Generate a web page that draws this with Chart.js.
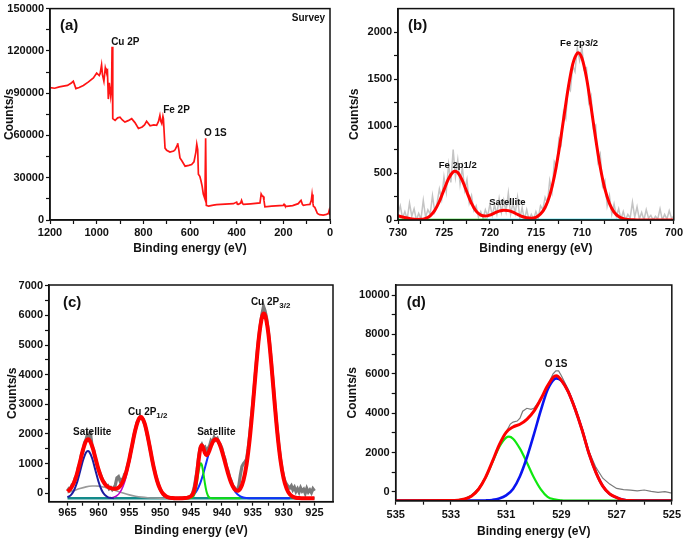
<!DOCTYPE html>
<html>
<head>
<meta charset="utf-8">
<script src="https://cdn.jsdelivr.net/npm/chart.js@4"></script>
<style>
  body { margin: 0; background: #fff; width: 685px; height: 539px; position: relative; overflow: hidden; }
  canvas { position: absolute; }
</style>
</head>
<body>
<canvas id="panelA" width="340" height="262" style="left:0;top:0"></canvas>
<canvas id="panelB" width="345" height="262" style="left:340px;top:0"></canvas>
<canvas id="panelC" width="340" height="277" style="left:0;top:262px"></canvas>
<canvas id="panelD" width="345" height="277" style="left:340px;top:262px"></canvas>
<script>
// ---- (a) survey spectrum ----
const surveyEnergy = [1200,1180,1160,1143,1125,1107,1100,1089,1075,1057,1035,1014,1000,989,985,979,975,969,963,960,954,950,946,940,936,934,931,921,910,900,890,879,865,850,836,821,805,795,786,771,755,743,735,729,725,721,716,714,707,700,686,670,664,655,653,648,643,635,621,605,593,583,575,571,567,564,558,553,548,543,536,533,530,520,500,486,450,414,400,397,393,383,379,374,371,340,300,295,290,286,283,279,250,200,197,193,186,160,136,129,124,118,114,100,86,80,77,73,71,65,60,54,45,29,15,7,4,3,1,0];
const surveyCounts = [93900,93500,94500,95000,95500,97400,98500,93200,94000,95500,98000,100800,104300,102500,104000,110100,103000,98500,108000,106000,106600,85800,97400,88100,95000,122900,71900,70700,72500,73000,71000,69500,70500,71900,69100,64900,66000,67500,70000,66800,67500,67200,70000,74200,70000,68400,73500,71900,51000,49500,48200,49000,49800,53000,54500,50000,44000,42000,38200,38800,39400,41300,48000,53800,50000,32500,31000,27800,24000,18500,15000,58000,10400,9800,10500,10900,11200,11600,12700,11200,11100,12000,13900,11500,11100,11500,12100,18500,17000,16700,14000,9300,9800,10400,11100,10000,9700,10200,11600,13000,13900,11000,10400,10800,11100,14000,18100,12000,9700,9000,7000,4600,3800,3500,4000,4600,6500,7400,4000,3500];
const aXTicks = [1200,1100,1000,900,800,700,600,500,400,300,200,100,0];
const aXMajor = [1200,1000,800,600,400,200,0];
const aYTicks = [0,15000,30000,45000,60000,75000,90000,105000,120000,135000,150000];
const aYMajor = [0,30000,60000,90000,120000,150000];

// ---- (b) Fe 2p ----
const feRawEnergy = [730,729.75,729.5,729.25,729,728.75,728.5,728.25,728,727.75,727.5,727.25,727,726.75,726.5,726.25,726,725.75,725.5,725.25,725,724.75,724.5,724.25,724,723.75,723.5,723.25,723,722.75,722.5,722.25,722,721.75,721.5,721.25,721,720.75,720.5,720.25,720,719.75,719.5,719.25,719,718.75,718.5,718.25,718,717.75,717.5,717.25,717,716.75,716.5,716.25,716,715.75,715.5,715.25,715,714.75,714.5,714.25,714,713.75,713.5,713.25,713,712.75,712.5,712.25,712,711.75,711.5,711.25,711,710.75,710.5,710.25,710,709.75,709.5,709.25,709,708.75,708.5,708.25,708,707.75,707.5,707.25,707,706.75,706.5,706.25,706,705.75,705.5,705.25,705,704.75,704.5,704.25,704,703.75,703.5,703.25,703,702.75,702.5,702.25,702,701.75,701.5,701.25,701,700.75,700.5,700.25,700];
const feRawCounts = [60,150,20,90,10,180,40,120,0,70,10,210,30,110,60,260,90,180,330,220,460,300,590,400,750,460,640,380,560,320,430,180,260,100,150,30,90,20,110,40,170,50,160,60,230,80,210,90,290,60,180,70,240,20,130,0,110,0,60,10,90,20,150,110,240,180,420,300,620,560,860,800,1150,1080,1420,1380,1640,1580,1830,1700,1840,1600,1620,1250,1320,980,1010,620,700,360,420,150,260,60,170,40,120,10,90,0,60,20,190,30,140,10,80,0,110,20,50,0,40,10,120,0,60,10,100,20,40];
const feFitEnergy = [730,729.5,729,728.5,728,727.5,727,726.5,726,725.5,725,724.5,724,723.8,723.5,723,722.5,722,721.5,721,720.5,720,719.5,719,718.5,718,717.5,717,716.5,716,715.5,715,714.5,714,713.5,713,712.5,712,711.5,711,710.5,710.4,710,709.5,709,708.5,708,707.5,707,706.5,706,705.5,705,704.5,704,703,702,701,700];
const feFitCounts = [45,32,21,11,6,7,18,45,103,197,321,441,513,520,505,419,296,177,94,52,42,53,74,94,105,100,83,59,37,23,19,29,63,133,260,461,737,1067,1397,1656,1776,1780,1724,1514,1203,865,562,331,176,85,37,15,5,2,0,0,0,0,0];
const feBaseGreenEnergy = [730,720.3];
const feBaseCyanEnergy = [720.8,705.5];
const feBaseCounts = [0,0];
const bXTicks = [730,727.5,725,722.5,720,717.5,715,712.5,710,707.5,705,702.5,700];
const bXMajor = [730,725,720,715,710,705,700];
const bYTicks = [0,250,500,750,1000,1250,1500,1750,2000];
const bYMajor = [0,500,1000,1500,2000];

// ---- (c) Cu 2p ----
const cuRawEnergy = [965,964.75,964.5,964.25,964,963.75,963.5,963.25,963,962.75,962.5,962.25,962,961.75,961.5,961.25,961,960.75,960.5,960.25,960,959.75,959.5,959.25,959,958.75,958.5,958.25,958,957.75,957.5,957.25,957,956.75,956.5,956.25,956,955.75,955.5,955.25,955,954.75,954.5,954.25,954,953.75,953.5,953.25,953,952.75,952.5,952.25,952,951.75,951.5,951.25,951,950.75,950.5,950.25,950,949.75,949.5,949.25,949,948.75,948.5,948.25,948,947.75,947.5,947.25,947,946.75,946.5,946.25,946,945.75,945.5,945.25,945,944.75,944.5,944.25,944,943.75,943.5,943.25,943,942.75,942.5,942.25,942,941.75,941.5,941.25,941,940.75,940.5,940.25,940,939.75,939.5,939.25,939,938.75,938.5,938.25,938,937.75,937.5,937.25,937,936.75,936.5,936.25,936,935.75,935.5,935.25,935,934.75,934.5,934.25,934,933.75,933.5,933.25,933,932.75,932.5,932.25,932,931.75,931.5,931.25,931,930.75,930.5,930.25,930,929.75,929.5,929.25,929,928.75,928.5,928.25,928,927.75,927.5,927.25,927,926.75,926.5,926.25,926,925.75,925.5,925.25,925];
const cuRawCounts = [90,160,140,290,330,520,600,880,1010,1300,1420,1700,1820,1990,1850,1960,1560,1450,1160,1000,800,680,540,420,360,240,260,150,190,120,180,280,520,560,420,470,480,640,720,950,1120,1420,1640,1950,2150,2380,2470,2580,2540,2500,2330,2140,1890,1650,1370,1080,850,630,440,270,150,40,-40,-90,-120,-140,-160,-165,-170,-180,-175,-172,-170,-166,-165,-162,-160,-150,-140,-120,-90,0,180,480,800,1250,1550,1640,1520,1560,1420,1500,1600,1780,1720,1880,1800,1850,1700,1640,1520,1300,1150,900,760,540,420,260,200,90,120,260,620,900,1000,1060,1150,1500,1950,2500,3000,3600,4200,4800,5300,5700,6050,6300,6150,5900,5500,5000,4450,3850,3200,2600,2050,1550,1150,800,560,380,300,220,180,250,120,200,60,150,40,180,70,130,0,160,40,110,20,150,80];
const cuFitEnergy = [965,964.5,964,963.5,963,962.5,962,961.7,961.5,961,960.5,960,959.5,959,958.5,958,957.5,957,956.5,956,955.5,955,954.5,954,953.5,953.1,953,952.5,952,951.5,951,950.5,950,949.5,949,948.5,948,947.5,947,946.5,946,945.5,945,944.75,944.5,944.25,944,943.75,943.5,943.25,943,942.75,942.5,942.25,942,941.5,941,940.5,940,939.5,939,938.5,938,937.5,937,936.5,936,935.5,935,934.5,934,933.5,933.2,933,932.5,932,931.5,931,930.5,930,929.5,929,928.5,928,927.5,927,926.5,925];
const cuFitCounts = [53,154,335,633,1037,1462,1759,1821,1805,1584,1205,815,514,326,220,171,149,163,239,411,711,1143,1657,2148,2486,2570,2561,2347,1904,1360,839,424,144,-21,-107,-147,-162,-168,-169,-167,-161,-146,-102,-45,74,308,686,1139,1499,1621,1521,1360,1284,1331,1454,1716,1820,1715,1431,1051,668,355,153,81,161,439,974,1808,2914,4150,5257,5946,6067,6013,5437,4391,3158,2008,1108,504,148,-35,-119,-152,-164,-168,-170,-170];
const cuSatAEnergy = [965,964.5,964,963.5,963,962.5,962,961.7,961.5,961,960.5,960,959.5,959,958.5,958,957.5];
const cuSatACounts = [-136,-70,76,338,708,1103,1375,1425,1403,1171,789,405,118,-49,-127,-157,-167];
const cuBroadEnergy = [965,964,963,962,961,960.5,960,959,958,957,956,955,954,953,952,951,950,949];
const cuBroadCounts = [19,89,159,214,243,246,240,205,146,75,5,-54,-100,-131,-150,-160,-166,-168];
const cuHalfEnergy = [958,957.5,957,956.5,956,955.5,955,954.5,954,953.5,953.1,953,952.5,952,951.5,951,950.5,950,949.5,949,948.5,948];
const cuHalfCounts = [-158,-136,-82,30,236,567,1027,1566,2078,2433,2528,2522,2318,1884,1346,829,418,140,-24,-109,-147,-162];
const cuSatGreenEnergy = [946,945.5,945,944.75,944.5,944.25,944,943.75,943.5,943.4,943.25,943,942.75,942.5,942.25,942,941.75,941.5,941,937];
const cuSatGreenCounts = [-170,-170,-163,-139,-65,108,405,754,988,1011,959,687,337,64,-86,-147,-165,-169,-170,-170];
const cuSatBlueEnergy = [946,945.5,945,944.5,944,943.5,943,942.5,942,941.5,941,940.5,940,939.5,939,938.5,938,937.5,937,936.5,936,935.5,935,929];
const cuSatBlueCounts = [-161,-146,-109,-31,111,341,664,1050,1431,1715,1820,1715,1431,1050,664,341,111,-31,-109,-146,-161,-167,-170,-170];
const cuBaseEnergy = [965,925];
const cuBaseCounts = [-170,-170];
const cXTicks = [965,962.5,960,957.5,955,952.5,950,947.5,945,942.5,940,937.5,935,932.5,930,927.5,925];
const cXMajor = [965,960,955,950,945,940,935,930,925];
const cYTicks = [0,500,1000,1500,2000,2500,3000,3500,4000,4500,5000,5500,6000,6500,7000];
const cYMajor = [0,1000,2000,3000,4000,5000,6000,7000];

// ---- (d) O 1s ----
const oRawEnergy = [532.5,532.25,532,531.75,531.5,531.25,531,530.85,530.75,530.6,530.5,530.4,530.25,530.1,530,529.75,529.5,529.3,529.2,529.1,529,528.75,528.5,528.25,528,527.75,527.5,527.25,527,526.75,526.5,526.25,526,525.75,525.5,525.25,525];
const oRawCounts = [-330,-150,200,750,1500,2350,3050,3450,3550,3600,3750,4100,4250,4200,4250,4700,5400,6000,6150,6150,5900,5200,4300,3250,2050,1250,700,400,180,120,90,60,100,30,-20,20,-60];
const oFitEnergy = [535,533,532.75,532.5,532.25,532,531.75,531.5,531.25,531,530.75,530.5,530.25,530,529.75,529.5,529.25,529.18,529,528.75,528.5,528.25,528,527.75,527.5,527.25,527,526.75,526.5,526.25,525];
const oFitCounts = [-440,-434,-416,-356,-200,140,730,1541,2393,3029,3301,3440,3690,4090,4708,5391,5880,5900,5669,5085,4201,3150,1950,1000,300,-100,-280,-400,-435,-440,-440];
const oLatticeEnergy = [535,533,532,531.75,531.5,531.25,531,530.75,530.5,530.25,530,529.75,529.5,529.25,529.18,529,528.75,528.5,528.25,528,527.75,527.5,527.25,527,526.75,526.5,526.25,525];
const oLatticeCounts = [-440,-440,-437,-428,-403,-335,-175,154,800,1750,2900,4118,5193,5741,5770,5650,5080,4200,3150,1950,1000,300,-100,-280,-400,-435,-440,-440];
const oHydroxylEnergy = [535,533,532.75,532.5,532.25,532,531.75,531.5,531.25,531,530.9,530.75,530.5,530.25,530,529.75,529.5,529.25,529,528.75,528.5,525];
const oHydroxylCounts = [-440,-434,-416,-356,-200,137,718,1504,2288,2764,2810,2707,2200,1500,750,150,-242,-373,-421,-435,-439,-440];
const dXTicks = [535,534,533,532,531,530,529,528,527,526,525];
const dXMajor = [535,533,531,529,527,525];
const dYTicks = [0,1000,2000,3000,4000,5000,6000,7000,8000,9000,10000];
const dYMajor = [0,2000,4000,6000,8000,10000];

Chart.defaults.font.family = "'Liberation Sans', Arial, sans-serif";
Chart.defaults.font.weight = 'bold';
Chart.defaults.color = '#111';
Chart.defaults.plugins.legend.display = false;
Chart.defaults.plugins.tooltip.enabled = false;
Chart.defaults.elements.point.radius = 0;

function pts(xs, ys) {
  return xs.map((x, i) => ({ x: x, y: ys[i] }));
}

function line(xs, ys, color, width, order, smooth) {
  return {
    data: pts(xs, ys),
    borderColor: color,
    borderWidth: width,
    fill: false,
    order: order,
    tension: smooth ? 0.4 : 0,
    cubicInterpolationMode: smooth ? 'monotone' : 'default'
  };
}

// black box round the plot + text notes
const framePlugin = {
  id: 'frame',
  afterDatasetsDraw(chart) {
    const { ctx, chartArea: a } = chart;
    ctx.save();
    ctx.strokeStyle = '#111';
    ctx.lineWidth = 1.5;
    ctx.strokeRect(a.left, a.top, a.right - a.left, a.bottom - a.top);
    ctx.restore();
  },
  afterDraw(chart, args, opts) {
    const { ctx, chartArea: a, scales } = chart;
    ctx.save();
    ctx.fillStyle = '#111';
    ctx.textBaseline = 'middle';
    ctx.font = "bold 15px 'Liberation Sans', Arial, sans-serif";
    ctx.textAlign = 'left';
    ctx.fillText(opts.letter[0], a.left + opts.letter[1], a.top + opts.letter[2]);
    (opts.notes || []).forEach(n => {
      const px = scales.x.getPixelForValue(n.x);
      const py = scales.y.getPixelForValue(n.y);
      ctx.font = "bold " + (n.size || 10) + "px 'Liberation Sans', Arial, sans-serif";
      ctx.textAlign = n.align || 'center';
      ctx.fillText(n.text, px, py);
      if (n.sub) {
        const w = ctx.measureText(n.text).width;
        ctx.font = "bold 8px 'Liberation Sans', Arial, sans-serif";
        ctx.textAlign = 'left';
        ctx.fillText(n.sub, px + w, py + 4);
      }
    });
    ctx.restore();
  }
};

function panel(id, p) {
  return new Chart(document.getElementById(id), {
    type: 'line',
    data: { datasets: p.datasets },
    plugins: [framePlugin],
    options: {
      responsive: false,
      animation: false,
      layout: { padding: p.pad },
      plugins: { frame: { letter: p.letter, notes: p.notes } },
      scales: {
        x: {
          type: 'linear',
          reverse: true,
          min: p.xMin,
          max: p.xMax,
          afterBuildTicks: ax => { ax.ticks = p.xTicks.map(v => ({ value: v })); },
          afterFit: ax => { ax.height = p.xAxisH; },
          ticks: {
            autoSkip: false, maxRotation: 0, padding: p.xTickPad,
            font: { size: 11, weight: 'bold' }, color: '#111',
            callback: v => p.xMajor.includes(v) ? String(v) : ''
          },
          grid: { drawOnChartArea: false, tickLength: 4, tickColor: '#111', tickWidth: 1.2 },
          border: { color: '#111', width: 1.5 },
          title: { display: true, text: 'Binding energy (eV)', color: '#111',
                   font: { size: 12, weight: 'bold' }, padding: { top: 0, bottom: p.xTitlePad } }
        },
        y: {
          type: 'linear',
          min: p.yMin,
          max: p.yMax,
          afterBuildTicks: ax => { ax.ticks = p.yTicks.map(v => ({ value: v })); },
          afterFit: ax => { ax.width = p.yAxisW; },
          ticks: {
            autoSkip: false, padding: 2,
            font: { size: 11, weight: 'bold' }, color: '#111',
            callback: v => p.yMajor.includes(v) ? String(v) : ''
          },
          grid: { drawOnChartArea: false, tickLength: 4, tickColor: '#111', tickWidth: 1.2 },
          border: { color: '#111', width: 1.5 },
          title: { display: true, text: 'Counts/s', color: '#111',
                   font: { size: 12, weight: 'bold' }, padding: { top: p.yTitlePad, bottom: 0 } }
        }
      }
    }
  });
}

panel('panelA', {
  datasets: [line(surveyEnergy, surveyCounts, '#ff1414', 1.7, 0, false)],
  xMin: 0, xMax: 1200, yMin: 0, yMax: 150000,
  xTicks: aXTicks, xMajor: aXMajor, yTicks: aYTicks, yMajor: aYMajor,
  pad: { left: 0, right: 10, top: 4, bottom: 2 }, yAxisW: 50, xAxisH: 40,
  xTickPad: 2, xTitlePad: 4, yTitlePad: 2,
  letter: ['(a)', 10, 17],
  notes: [
    { text: 'Cu 2P', x: 938, y: 126400, align: 'left' },
    { text: 'Fe 2P', x: 715, y: 77800, align: 'left' },
    { text: 'O 1S', x: 540, y: 61800, align: 'left' },
    { text: 'Survey', x: 21, y: 143400, align: 'right' }
  ]
});

panel('panelB', {
  datasets: [
    line(feFitEnergy, feFitCounts, '#ff0000', 3, 0, true),
    line(feBaseGreenEnergy, feBaseCounts, '#00cc00', 2.5, 1, false),
    line(feBaseCyanEnergy, feBaseCounts, '#00d0e0', 2.5, 2, false),
    line(feRawEnergy, feRawCounts, '#c4c4c4', 1.5, 3, false)
  ],
  xMin: 700, xMax: 730, yMin: 0, yMax: 2250,
  xTicks: bXTicks, xMajor: bXMajor, yTicks: bYTicks, yMajor: bYMajor,
  pad: { left: 0, right: 10, top: 2.5, bottom: 2 }, yAxisW: 58, xAxisH: 40,
  xTickPad: 2, xTitlePad: 4, yTitlePad: 7,
  letter: ['(b)', 10, 17.5],
  notes: [
    { text: 'Fe 2p3/2', x: 710.3, y: 1876, size: 9.5 },
    { text: 'Fe 2p1/2', x: 723.5, y: 582, size: 9.5 },
    { text: 'Satellite', x: 718.1, y: 189, size: 9.5 }
  ]
});

panel('panelC', {
  datasets: [
    line(cuFitEnergy, cuFitCounts, '#ff0000', 4, 0, true),
    line(cuSatAEnergy, cuSatACounts, '#1c1ca0', 2, 1, true),
    line(cuHalfEnergy, cuHalfCounts, '#c000c8', 1.6, 2, true),
    line(cuSatGreenEnergy, cuSatGreenCounts, '#10e010', 2, 3, true),
    line(cuSatBlueEnergy, cuSatBlueCounts, '#1030ff', 2, 4, true),
    line(cuBroadEnergy, cuBroadCounts, '#9a9a9a', 1.6, 5, true),
    line(cuBaseEnergy, cuBaseCounts, '#138a8a', 2.5, 6, false),
    line(cuRawEnergy, cuRawCounts, '#7a7a7a', 3.2, 7, false)
  ],
  xMin: 922, xMax: 968, yMin: -285, yMax: 7025,
  xTicks: cXTicks, xMajor: cXMajor, yTicks: cYTicks, yMajor: cYMajor,
  pad: { left: 0, right: 7, top: 23, bottom: 0 }, yAxisW: 49, xAxisH: 37.3,
  xTickPad: 1, xTitlePad: 1, yTitlePad: 5,
  letter: ['(c)', 14, 18],
  notes: [
    { text: 'Satellite', x: 961.0, y: 2066 },
    { text: 'Cu 2P', x: 955.2, y: 2740, align: 'left', sub: '1/2' },
    { text: 'Satellite', x: 940.9, y: 2066 },
    { text: 'Cu 2P', x: 935.3, y: 6448, align: 'left', sub: '3/2' }
  ]
});

panel('panelD', {
  datasets: [
    line(oFitEnergy, oFitCounts, '#ff0000', 3, 0, true),
    line(oLatticeEnergy, oLatticeCounts, '#0a14f0', 2.6, 1, true),
    line(oHydroxylEnergy, oHydroxylCounts, '#10e810', 2.2, 2, true),
    line(oRawEnergy, oRawCounts, '#7a7a7a', 1.2, 3, false)
  ],
  xMin: 525, xMax: 535, yMin: -442, yMax: 10508,
  xTicks: dXTicks, xMajor: dXMajor, yTicks: dYTicks, yMajor: dYMajor,
  pad: { left: 0, right: 10, top: 23, bottom: 0 }, yAxisW: 55.7, xAxisH: 38.3,
  xTickPad: 4, xTitlePad: 0, yTitlePad: 5,
  letter: ['(d)', 11, 18],
  notes: [
    { text: 'O 1S', x: 529.19, y: 6497 }
  ]
});
</script>
</body>
</html>
